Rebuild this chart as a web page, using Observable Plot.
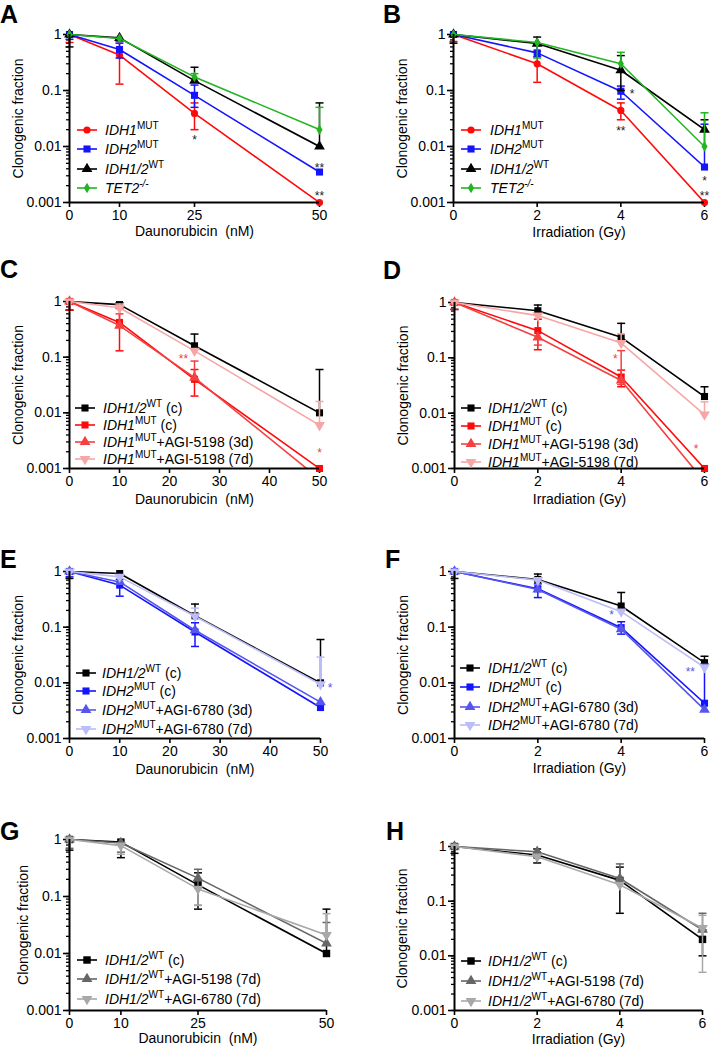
<!DOCTYPE html>
<html><head><meta charset="utf-8">
<script src="https://cdn.jsdelivr.net/npm/d3@7"></script>
<script src="https://cdn.jsdelivr.net/npm/@observablehq/plot@0.6"></script>
<style>
body{margin:0;background:#fff;font-family:Arial,"Liberation Sans",Helvetica,sans-serif;}
#root{position:relative;width:710px;height:1050px;overflow:hidden;}
.panel{position:absolute;}
.letter{position:absolute;font-weight:bold;font-size:25px;line-height:1;color:#000;}
.lgsw{position:absolute;}
.lgtx{position:absolute;font-size:14px;line-height:16px;white-space:nowrap;color:#000;}
.sup{font-size:10px;position:relative;top:-6px;font-style:normal;}
</style></head><body><div id="root"></div>
<script>
const SANS = "Arial, 'Liberation Sans', Helvetica, sans-serif";

// ---------- shared axes data ----------
const daunoDoses = [0, 10, 25, 50];
const irrDoses = [0, 2, 4, 6];
const daunoTicksAG = [0, 10, 25, 50];
const daunoTicksCE = [0, 10, 20, 30, 40, 50];
const irrTicks = [0, 2, 4, 6];
const yMajorTicks = [1, 0.1, 0.01, 0.001];
const yTickLabels = ["1", "0.1", "0.01", "0.001"];
const yAxisLabel = "Clonogenic fraction";
const daunoLabel = "Daunorubicin  (nM)";
const irrLabel = "Irradiation (Gy)";

// ---------- Panel A (Daunorubicin) ----------
const A_idh1mut = [1, 0.43, 0.039, 0.001];
const A_idh1mut_lo = [0.72, 0.13, 0.02, null];
const A_idh1mut_hi = [null, 0.75, 0.06, null];
const A_idh2mut = [1, 0.54, 0.082, 0.0035];
const A_idh2mut_lo = [0.82, 0.38, 0.05, null];
const A_idh2mut_hi = [null, 0.7, 0.125, null];
const A_wt = [1, 0.87, 0.15, 0.01];
const A_wt_lo = [0.6, null, null, null];
const A_wt_hi = [null, null, 0.26, 0.06];
const A_tet2 = [1, 0.85, 0.175, 0.02];
const A_tet2_lo = [null, null, null, null];
const A_tet2_hi = [null, null, 0.2, 0.05];
const A_stars = [{x: 25, y: 0.015, t: "*"}, {x: 50, y: 0.0049, t: "**"}, {x: 50, y: 0.0015, t: "**"}];

// ---------- Panel B (Irradiation) ----------
const B_idh1mut = [1, 0.3, 0.044, 0.001];
const B_idh1mut_lo = [0.75, 0.14, 0.03, null];
const B_idh1mut_hi = [null, 0.5, 0.06, null];
const B_idh2mut = [1, 0.47, 0.097, 0.0043];
const B_idh2mut_lo = [null, 0.4, 0.07, null];
const B_idh2mut_hi = [null, 0.65, 0.12, 0.025];
const B_wt = [1, 0.69, 0.23, 0.02];
const B_wt_lo = [0.7, null, 0.1, null];
const B_wt_hi = [null, 0.9, 0.42, 0.03];
const B_tet2 = [1, 0.72, 0.3, 0.01];
const B_tet2_lo = [null, 0.38, null, null];
const B_tet2_hi = [null, null, 0.48, 0.04];
const B_stars = [{x: 4.27, y: 0.1, t: "*"}, {x: 4.0, y: 0.022, t: "**"}, {x: 6, y: 0.0028, t: "*"}, {x: 6, y: 0.0015, t: "**"}];

// ---------- Panel C ----------
const C_wt = [1, 0.88, 0.16, 0.01];
const C_wt_lo = [0.7, null, null, null];
const C_wt_hi = [null, 0.95, 0.26, 0.06];
const C_idh1 = [1, 0.42, 0.04, 0.001];
const C_idh1_lo = [0.7, 0.13, 0.02, null];
const C_idh1_hi = [null, 0.75, 0.06, null];
const C_d3 = [1, 0.37, 0.043, 0.00065];
const C_d3_lo = [null, null, null, null];
const C_d3_hi = [null, 0.6, 0.085, null];
const C_d7 = [1, 0.77, 0.13, 0.006];
const C_d7_lo = [null, null, null, null];
const C_d7_hi = [null, 0.9, null, 0.016];
const C_stars = [{x: 22.8, y: 0.107, t: "**"}, {x: 50, y: 0.0022, t: "*"}];

// ---------- Panel D ----------
const D_wt = [1, 0.71, 0.235, 0.02];
const D_wt_lo = [0.75, null, null, null];
const D_wt_hi = [null, 0.9, 0.42, 0.03];
const D_idh1 = [1, 0.31, 0.045, 0.001];
const D_idh1_lo = [0.75, 0.14, 0.03, null];
const D_idh1_hi = [null, 0.5, 0.06, null];
const D_d3 = [1, 0.235, 0.039, 0.00058];
const D_d3_lo = [null, 0.17, 0.033, null];
const D_d3_hi = [null, null, 0.135, null];
const D_d7 = [1, 0.58, 0.185, 0.0094];
const D_d7_lo = [null, null, null, null];
const D_d7_hi = [null, null, 0.27, 0.016];
const D_stars = [{x: 3.86, y: 0.11, t: "*"}, {x: 5.8, y: 0.0026, t: "*"}];

// ---------- Panel E ----------
const E_wt = [1, 0.92, 0.16, 0.01];
const E_wt_lo = [0.75, null, null, null];
const E_wt_hi = [null, null, 0.26, 0.06];
const E_idh2 = [1, 0.57, 0.082, 0.0036];
const E_idh2_lo = [0.8, 0.36, 0.045, null];
const E_idh2_hi = [null, 0.72, 0.12, null];
const E_d3 = [1, 0.65, 0.088, 0.0045];
const E_d3_lo = [null, null, null, null];
const E_d3_hi = [null, null, null, null];
const E_d7 = [1, 0.8, 0.157, 0.0094];
const E_d7_lo = [null, null, null, null];
const E_d7_hi = [null, null, 0.22, 0.029];
const E_stars = [{x: 51.9, y: 0.0093, t: "*"}];

// ---------- Panel F ----------
const F_wt = [1, 0.72, 0.24, 0.023];
const F_wt_lo = [0.75, null, null, null];
const F_wt_hi = [null, 0.9, 0.42, 0.03];
const F_idh2 = [1, 0.49, 0.098, 0.0043];
const F_idh2_lo = [null, 0.34, 0.075, null];
const F_idh2_hi = [null, 0.6, 0.125, 0.022];
const F_d3 = [1, 0.475, 0.092, 0.0033];
const F_d3_lo = [null, null, null, null];
const F_d3_hi = [null, null, null, null];
const F_d7 = [1, 0.70, 0.19, 0.019];
const F_d7_lo = [null, null, null, null];
const F_d7_hi = [null, null, null, null];
const F_stars = [{x: 3.77, y: 0.19, t: "*"}, {x: 5.66, y: 0.018, t: "**"}];

// ---------- Panel G ----------
const G_wt = [1, 0.9, 0.16, 0.01];
const G_wt_lo = [0.65, 0.48, 0.06, null];
const G_wt_hi = [null, null, 0.26, 0.06];
const G_a5198 = [1, 0.87, 0.21, 0.015];
const G_a5198_lo = [0.7, 0.6, 0.07, null];
const G_a5198_hi = [null, null, 0.3, 0.035];
const G_a6780 = [1, 0.78, 0.136, 0.021];
const G_a6780_lo = [null, 0.55, 0.07, null];
const G_a6780_hi = [null, null, null, 0.05];

// ---------- Panel H ----------
const H_wt = [1, 0.70, 0.24, 0.02];
const H_wt_lo = [0.75, 0.5, 0.06, 0.01];
const H_wt_hi = [null, 0.9, 0.42, 0.03];
const H_a5198 = [1, 0.8, 0.26, 0.03];
const H_a5198_lo = [null, null, null, null];
const H_a5198_hi = [null, null, 0.48, 0.06];
const H_a6780 = [1, 0.65, 0.2, 0.032];
const H_a6780_lo = [null, null, null, 0.005];
const H_a6780_hi = [null, null, null, 0.055];

// ---------- styles ----------
const RED = "#ff0a0a", BLUE = "#1414ff", GREEN = "#22b422", BLACK = "#000000";
const RED3 = "#f54040", RED7 = "#f7a6a6", BLUE3 = "#5656ee", BLUE7 = "#bcbcf6";
const GRAY5 = "#666666", GRAY6 = "#a8a8a8";

const capSym = {draw(ctx, size) { const r = Math.sqrt(size / Math.PI); ctx.moveTo(-r, 0); ctx.lineTo(r, 0); }};
const downTri = {draw(ctx, size) {
  const s3 = Math.sqrt(3); const y = -Math.sqrt(size / (s3 * 3));
  ctx.moveTo(0, -y * 2); ctx.lineTo(-s3 * y, y); ctx.lineTo(s3 * y, y); ctx.closePath();
}};

const L = {
  idh1mut: '<i>IDH1</i><span class="sup">MUT</span>',
  idh2mut: '<i>IDH2</i><span class="sup">MUT</span>',
  wt: '<i>IDH1/2</i><span class="sup">WT</span>',
  tet2: '<i>TET2</i><span class="sup"><i>-/-</i></span>'
};

function S(label, color, sym, r, y, lo, hi) { return {label, color, sym, r, y, lo, hi}; }

const panels = [
  {id: "A", left: 0, top: 0, w: 355, h: 262, mt: 34, mb: 60, ml: 69, mr: 36,
   x: daunoDoses, xTicks: daunoTicksAG, xLabel: daunoLabel, xdy: 33, ydx: -51,
   letter: [0, 2], lg: {sw: 77, tx: 105, ys: [130, 149, 169, 188]},
   stars: A_stars, starColor: "#222",
   series: [
     S(L.idh1mut, RED, "circle", 3.6, A_idh1mut, A_idh1mut_lo, A_idh1mut_hi),
     S(L.idh2mut, BLUE, "square", 4, A_idh2mut, A_idh2mut_lo, A_idh2mut_hi),
     S(L.wt, BLACK, "triangle", 4, A_wt, A_wt_lo, A_wt_hi),
     S(L.tet2, GREEN, "diamond", 3.2, A_tet2, A_tet2_lo, A_tet2_hi)
   ]},
  {id: "B", left: 355, top: 0, w: 355, h: 262, mt: 34, mb: 60, ml: 98, mr: 6,
   x: irrDoses, xTicks: irrTicks, xLabel: irrLabel, xdy: 34, ydx: -51,
   letter: [383, 2], lg: {sw: 461, tx: 490, ys: [130, 149, 169, 188]},
   stars: B_stars, starColor: "#222",
   series: [
     S(L.idh1mut, RED, "circle", 3.6, B_idh1mut, B_idh1mut_lo, B_idh1mut_hi),
     S(L.idh2mut, BLUE, "square", 4, B_idh2mut, B_idh2mut_lo, B_idh2mut_hi),
     S(L.wt, BLACK, "triangle", 4, B_wt, B_wt_lo, B_wt_hi),
     S(L.tet2, GREEN, "diamond", 3.2, B_tet2, B_tet2_lo, B_tet2_hi)
   ]},
  {id: "C", left: 0, top: 265, w: 355, h: 262, mt: 36, mb: 59, ml: 69, mr: 36,
   x: daunoDoses, xTicks: daunoTicksCE, xLabel: daunoLabel, xdy: 35, ydx: -51,
   letter: [0, 257], lg: {sw: 75, tx: 103, ys: [408, 425, 442, 459]},
   stars: C_stars, starColor: RED3,
   series: [
     S(L.wt + " (c)", BLACK, "square", 4, C_wt, C_wt_lo, C_wt_hi),
     S(L.idh1mut + " (c)", RED, "square", 4, C_idh1, C_idh1_lo, C_idh1_hi),
     S(L.idh1mut + "+AGI-5198 (3d)", RED3, "triangle", 4, C_d3, C_d3_lo, C_d3_hi),
     S(L.idh1mut + "+AGI-5198 (7d)", RED7, downTri, 4, C_d7, C_d7_lo, C_d7_hi)
   ]},
  {id: "D", left: 355, top: 265, w: 355, h: 262, mt: 37, mb: 59, ml: 99, mr: 6,
   x: irrDoses, xTicks: irrTicks, xLabel: irrLabel, xdy: 35, ydx: -51,
   letter: [383, 258], lg: {sw: 461, tx: 488, ys: [408, 426, 444, 462]},
   stars: D_stars, starColor: RED3,
   series: [
     S(L.wt + " (c)", BLACK, "square", 4, D_wt, D_wt_lo, D_wt_hi),
     S(L.idh1mut + " (c)", RED, "square", 4, D_idh1, D_idh1_lo, D_idh1_hi),
     S(L.idh1mut + "+AGI-5198 (3d)", RED3, "triangle", 4, D_d3, D_d3_lo, D_d3_hi),
     S(L.idh1mut + "+AGI-5198 (7d)", RED7, downTri, 4, D_d7, D_d7_lo, D_d7_hi)
   ]},
  {id: "E", left: 0, top: 530, w: 355, h: 262, mt: 41, mb: 54, ml: 69, mr: 35,
   x: daunoDoses, xTicks: daunoTicksCE, xLabel: daunoLabel, xdy: 35, ydx: -51,
   letter: [0, 547], lg: {sw: 76, tx: 102, ys: [673, 691, 710, 729]},
   stars: E_stars, starColor: BLUE3,
   series: [
     S(L.wt + " (c)", BLACK, "square", 4, E_wt, E_wt_lo, E_wt_hi),
     S(L.idh2mut + " (c)", BLUE, "square", 4, E_idh2, E_idh2_lo, E_idh2_hi),
     S(L.idh2mut + "+AGI-6780 (3d)", BLUE3, "triangle", 4, E_d3, E_d3_lo, E_d3_hi),
     S(L.idh2mut + "+AGI-6780 (7d)", BLUE7, downTri, 4, E_d7, E_d7_lo, E_d7_hi)
   ]},
  {id: "F", left: 355, top: 530, w: 355, h: 262, mt: 41, mb: 54, ml: 99, mr: 6,
   x: irrDoses, xTicks: irrTicks, xLabel: irrLabel, xdy: 34, ydx: -51,
   letter: [385, 547], lg: {sw: 460, tx: 488, ys: [668, 687, 707, 725]},
   stars: F_stars, starColor: BLUE3,
   series: [
     S(L.wt + " (c)", BLACK, "square", 4, F_wt, F_wt_lo, F_wt_hi),
     S(L.idh2mut + " (c)", BLUE, "square", 4, F_idh2, F_idh2_lo, F_idh2_hi),
     S(L.idh2mut + "+AGI-6780 (3d)", BLUE3, "triangle", 4, F_d3, F_d3_lo, F_d3_hi),
     S(L.idh2mut + "+AGI-6780 (7d)", BLUE7, downTri, 4, F_d7, F_d7_lo, F_d7_hi)
   ]},
  {id: "G", left: 0, top: 790, w: 355, h: 260, mt: 49, mb: 40, ml: 69, mr: 29,
   x: daunoDoses, xTicks: daunoTicksAG, xLabel: daunoLabel, xdy: 32, ydx: -46,
   letter: [0, 819], lg: {sw: 77, tx: 105, ys: [960, 979, 999]},
   stars: [], starColor: "#222",
   series: [
     S(L.wt + " (c)", BLACK, "square", 4.2, G_wt, G_wt_lo, G_wt_hi),
     S(L.wt + "+AGI-5198 (7d)", GRAY5, "triangle", 4, G_a5198, G_a5198_lo, G_a5198_hi),
     S(L.wt + "+AGI-6780 (7d)", GRAY6, downTri, 4, G_a6780, G_a6780_lo, G_a6780_hi)
   ]},
  {id: "H", left: 355, top: 790, w: 355, h: 260, mt: 56, mb: 40, ml: 99, mr: 8,
   x: irrDoses, xTicks: irrTicks, xLabel: irrLabel, xdy: 33, ydx: -52,
   letter: [386, 819], lg: {sw: 461, tx: 488, ys: [961, 981, 1001]},
   stars: [], starColor: "#222",
   series: [
     S(L.wt + " (c)", BLACK, "square", 4.2, H_wt, H_wt_lo, H_wt_hi),
     S(L.wt + "+AGI-5198 (7d)", GRAY5, "triangle", 4, H_a5198, H_a5198_lo, H_a5198_hi),
     S(L.wt + "+AGI-6780 (7d)", GRAY6, downTri, 4, H_a6780, H_a6780_lo, H_a6780_hi)
   ]}
];

const minorTicks = d3.scaleLog().domain([0.001, 1]).ticks();

function buildPanel(p) {
  const marks = [
    Plot.axisY({ticks: minorTicks, tickSize: 3, tickFormat: () => "", label: null, strokeWidth: 1.3}),
    Plot.axisY({ticks: yMajorTicks, tickSize: 6, tickPadding: 2, label: null, fontSize: 14, strokeWidth: 1.6,
                tickFormat: d => yTickLabels[yMajorTicks.indexOf(d)]}),
    Plot.axisX({ticks: p.xTicks, tickSize: 5, tickPadding: 3, label: null, fontSize: 14, strokeWidth: 1.6,
                tickFormat: d => String(d)}),
    Plot.text([yAxisLabel], {text: d => d, frameAnchor: "left", textAnchor: "middle", rotate: -90, dx: p.ydx, fontSize: 14}),
    Plot.text([p.xLabel], {text: d => d, frameAnchor: "bottom", textAnchor: "middle", dy: p.xdy, fontSize: 14})
  ];
  p.series.forEach(s => {
    const rows = p.x.map((x, i) => ({x, y: s.y[i]}));
    const err = [];
    p.x.forEach((x, i) => {
      if (s.lo[i] != null) err.push({x, y: s.y[i], e: s.lo[i]});
      if (s.hi[i] != null) err.push({x, y: s.y[i], e: s.hi[i]});
    });
    marks.push(Plot.line(rows, {x: "x", y: "y", stroke: s.color, strokeWidth: 1.6, clip: true}));
    marks.push(Plot.ruleX(err, {x: "x", y1: "y", y2: "e", stroke: s.color, strokeWidth: 1.5}));
    marks.push(Plot.dot(err, {x: "x", y: "e", symbol: capSym, r: 4, stroke: s.color, fill: "none", strokeWidth: 1.5}));
    marks.push(Plot.dot(rows.filter(d => d.y >= 0.001), {x: "x", y: "y", symbol: s.sym, r: s.r, fill: s.color, stroke: "none"}));
  });
  marks.push(Plot.ruleX([0], {strokeWidth: 2}));
  marks.push(Plot.ruleY([0.001], {strokeWidth: 2}));
  marks.push(Plot.text(p.stars, {x: "x", y: "y", text: "t", fill: p.starColor, fontSize: 12, dy: 4}));
  return Plot.plot({
    width: p.w, height: p.h,
    marginTop: p.mt, marginBottom: p.mb, marginLeft: p.ml, marginRight: p.mr,
    x: {domain: [p.x[0], p.x[p.x.length - 1]]},
    y: {type: "log", domain: [0.001, 1]},
    style: {fontFamily: SANS, fontSize: "14px", color: "#000", background: "transparent", overflow: "visible"},
    marks
  });
}

const root = document.getElementById("root");
panels.forEach(p => {
  const svg = buildPanel(p);
  svg.classList.add("panel");
  svg.style.left = p.left + "px";
  svg.style.top = p.top + "px";
  root.appendChild(svg);
});
panels.forEach(p => {
  const let_ = document.createElement("div");
  let_.className = "letter";
  let_.textContent = p.id;
  let_.style.left = p.letter[0] + "px";
  let_.style.top = p.letter[1] + "px";
  root.appendChild(let_);
  p.series.forEach((s, i) => {
    const cy = p.lg.ys[i];
    const sw = d3.create("svg").attr("class", "lgsw").attr("width", 22).attr("height", 14)
      .style("left", p.lg.sw + "px").style("top", (cy - 7) + "px");
    sw.append("line").attr("x1", 0).attr("x2", 20).attr("y1", 7).attr("y2", 7)
      .attr("stroke", s.color).attr("stroke-width", 1.6);
    const symType = typeof s.sym === "string"
      ? {circle: d3.symbolCircle, square: d3.symbolSquare, triangle: d3.symbolTriangle, diamond: d3.symbolDiamond}[s.sym]
      : s.sym;
    sw.append("path").attr("transform", "translate(10,7)")
      .attr("d", d3.symbol(symType, s.r * s.r * Math.PI)()).attr("fill", s.color);
    root.appendChild(sw.node());
    const tx = document.createElement("div");
    tx.className = "lgtx";
    tx.innerHTML = s.label;
    tx.style.left = p.lg.tx + "px";
    tx.style.top = (cy - 8) + "px";
    root.appendChild(tx);
  });
});
</script>
</body></html>
